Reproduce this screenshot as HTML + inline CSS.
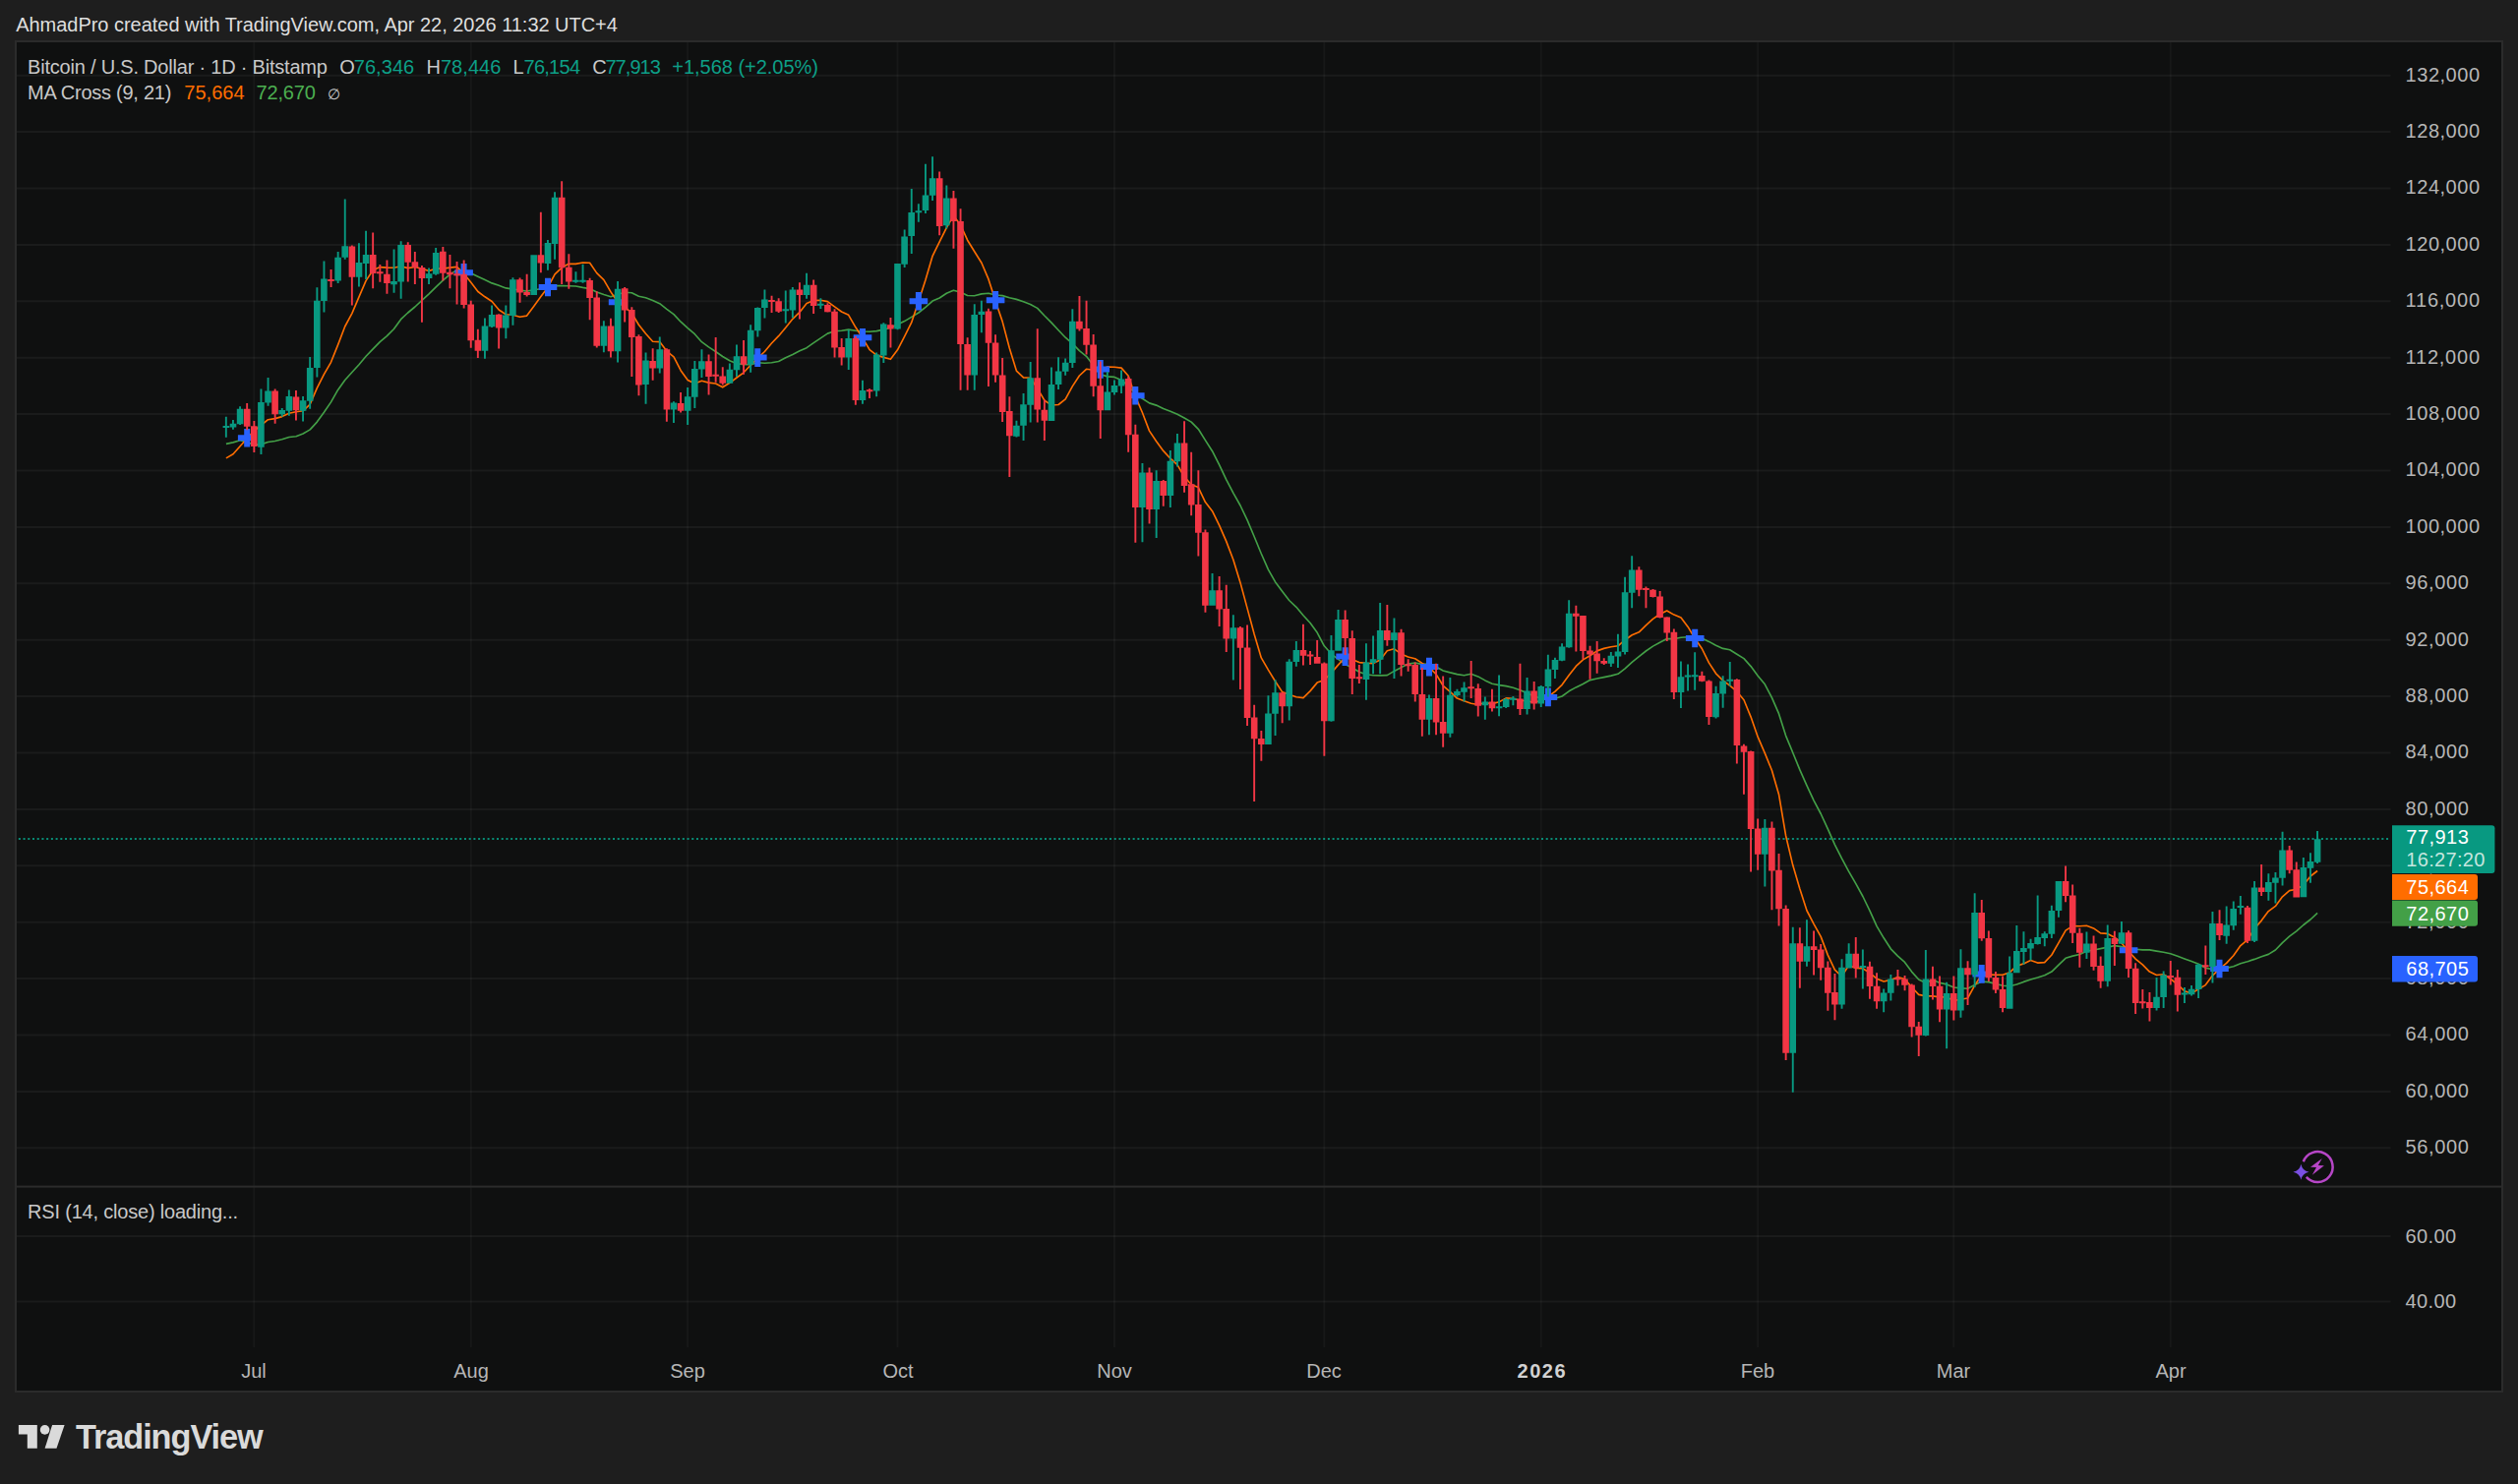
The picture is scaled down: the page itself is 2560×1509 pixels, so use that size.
<!DOCTYPE html>
<html lang="en"><head><meta charset="utf-8"><title>BTCUSD chart snapshot</title>
<style>
html,body{margin:0;padding:0;background:#1e1e1e}
body{width:2560px;height:1509px;position:relative;overflow:hidden;font-family:"Liberation Sans",sans-serif}
.frame{position:absolute;left:15px;top:41px;width:2526px;height:1371px;border:2px solid #2b2b2b;background:#0f1010}
svg{position:absolute;left:0;top:0;font-family:"Liberation Sans",sans-serif}
</style></head><body>
<div class="frame"></div>
<svg width="2560" height="1509" viewBox="0 0 2560 1509">
<text x="16.2" y="31.8" font-size="20" fill="#dedede" textLength="611.7" lengthAdjust="spacing">AhmadPro created with TradingView.com, Apr 22, 2026 11:32 UTC+4</text>
<path d="M17 1167.3H2430.5M17 1109.9H2430.5M17 1052.5H2430.5M17 995.1H2430.5M17 937.7H2430.5M17 880.3H2430.5M17 822.9H2430.5M17 765.5H2430.5M17 708.1H2430.5M17 650.7H2430.5M17 593.3H2430.5M17 535.9H2430.5M17 478.5H2430.5M17 421.1H2430.5M17 363.7H2430.5M17 306.3H2430.5M17 248.9H2430.5M17 191.5H2430.5M17 134.1H2430.5M17 76.7H2430.5M17 1257H2430.5M17 1323.4H2430.5" stroke="rgba(255,255,255,0.047)" stroke-width="2" fill="none"/>
<path d="M258.3 43V1370M478.7 43V1370M699.2 43V1370M912.5 43V1370M1133 43V1370M1346.3 43V1370M1566.7 43V1370M1787.2 43V1370M1986.3 43V1370M2206.7 43V1370" stroke="rgba(255,255,255,0.036)" stroke-width="2" fill="none"/>
<rect x="17" y="1205.6" width="2526" height="2" fill="#2b2b2b"/>
<path d="M229.9 451.4L237 449.9L244.1 447.8L251.2 449.6L258.3 452.4L265.4 451.9L272.5 449.5L279.6 448.5L286.7 446.7L293.9 444.5L301 443.7L308.1 441L315.2 436.9L322.3 429.1L329.4 419.3L336.5 408.9L343.6 396.4L350.7 386.5L357.9 378.5L365 370.7L372.1 362.3L379.2 354.9L386.3 347.6L393.4 341.6L400.5 334.5L407.6 324.7L414.7 318L421.9 312L429 305.4L436.1 298.8L443.2 291.9L450.3 285.2L457.4 279.1L464.5 274.6L471.6 274.8L478.7 277.8L485.9 281.2L493 284.5L500.1 287.9L507.2 290.3L514.3 292.9L521.4 294.1L528.5 295L535.6 296.1L542.7 294.7L549.9 293.8L557 293.7L564.1 290.6L571.2 290.6L578.3 290.7L585.4 291L592.5 292.4L599.6 293.6L606.7 297L613.9 299.5L621 301.7L628.1 299.2L635.2 297.3L642.3 297.8L649.4 301.2L656.5 302.8L663.6 305.4L670.7 308.7L677.9 314.4L685 319.6L692.1 327.2L699.2 333.6L706.3 339.7L713.4 347.7L720.5 352.9L727.6 357.5L734.7 362.5L741.9 366.8L749 369.7L756.1 370.6L763.2 370.8L770.3 368.7L777.4 369.2L784.5 368.8L791.6 367.5L798.7 363.8L805.9 360.4L813 356.8L820.1 353.7L827.2 348.7L834.3 343.9L841.4 339.1L848.5 336.8L855.6 336.2L862.7 335.1L869.9 336.3L877 337L884.1 337.3L891.2 336.6L898.3 335.1L905.4 333.3L912.5 330.1L919.6 326.6L926.7 322.4L933.9 318L941 312.4L948.1 306.1L955.2 303L962.3 298.3L969.4 295.2L976.5 297.1L983.6 300.5L990.7 300.7L997.9 298.9L1005 298.2L1012.1 300L1019.2 300.6L1026.3 302.8L1033.4 304.4L1040.5 306.8L1047.6 309.5L1054.7 313.4L1061.9 321L1069 328.1L1076.1 335.8L1083.2 343.2L1090.3 349.3L1097.4 356.6L1104.5 362.3L1111.6 371.4L1118.7 380.6L1125.9 382.9L1133 383.4L1140.1 386.5L1147.2 392.5L1154.3 400.5L1161.4 405.2L1168.5 409.9L1175.6 412.1L1182.7 415.5L1189.9 418.2L1197 421.3L1204.1 425L1211.2 429.1L1218.3 436.3L1225.4 447.6L1232.5 458.7L1239.6 472.6L1246.7 487.6L1253.9 501.3L1261 514L1268.1 528.9L1275.2 545.7L1282.3 563L1289.4 579.2L1296.5 591.7L1303.6 601.3L1310.7 610.5L1317.9 617.3L1325 625.8L1332.1 633.5L1339.2 643.3L1346.3 656.8L1353.4 664.8L1360.5 670.3L1367.6 675.4L1374.7 679L1381.9 683.2L1389 685.8L1396.1 686.8L1403.2 686.9L1410.3 686.6L1417.4 682.4L1424.5 678.8L1431.6 675L1438.7 674.1L1445.9 675.4L1453 675L1460.1 678L1467.2 682L1474.3 683.9L1481.4 685.6L1488.5 686.8L1495.6 685.2L1502.7 687.9L1509.9 691.9L1517 695.2L1524.1 696.6L1531.2 697.6L1538.3 699.3L1545.4 701.7L1552.5 704.7L1559.6 707.7L1566.7 710.3L1573.9 710.6L1581 710.3L1588.1 708L1595.2 702.8L1602.3 698.9L1609.4 695.4L1616.5 691.6L1623.6 690L1630.7 688.6L1637.9 687.1L1645 685.3L1652.1 679.8L1659.2 673.4L1666.3 667.7L1673.4 662L1680.5 657.1L1687.6 653.2L1694.7 649.5L1701.9 649.6L1709 648.3L1716.1 647.7L1723.2 648L1730.3 649L1737.4 652.4L1744.5 656.3L1751.6 659.4L1758.7 660.8L1765.9 665.2L1773 669.6L1780.1 677.6L1787.2 687.2L1794.3 695.8L1801.4 709.3L1808.5 725.7L1815.6 748.1L1822.7 765.2L1829.9 782.9L1837 798.8L1844.1 814.1L1851.2 827.5L1858.3 842.8L1865.4 858.8L1872.5 872.9L1879.6 886.1L1886.7 898.3L1893.9 911.5L1901 926.2L1908.1 941.8L1915.2 953.8L1922.3 964.8L1929.4 972.1L1936.5 978.4L1943.6 988.1L1950.7 996L1957.9 999.4L1965 996.2L1972.1 999.4L1979.2 1000.9L1986.3 1004L1993.4 1004.9L2000.5 1005.2L2007.6 1001.4L2014.7 998.1L2021.9 998.6L2029 1000.4L2036.1 1002.3L2043.2 1002.7L2050.3 1001L2057.4 998.4L2064.5 996L2071.6 994L2078.7 991.7L2085.9 988.1L2093 981.1L2100.1 974.3L2107.2 972.1L2114.3 970.5L2121.4 967.3L2128.5 966L2135.6 964.6L2142.7 963.1L2149.9 961.6L2157 962.6L2164.1 964.1L2171.2 965.3L2178.3 965.9L2185.4 965.9L2192.5 967.1L2199.6 968.3L2206.7 969.7L2213.9 972.2L2221 974.9L2228.1 977.6L2235.2 980.2L2242.3 984.3L2249.4 985.6L2256.5 985.8L2263.6 984.4L2270.7 982.7L2277.9 979.8L2285 977.8L2292.1 975.4L2299.2 972.8L2306.3 970.4L2313.4 966L2320.5 958.6L2327.6 952.2L2334.7 946.8L2341.9 940.5L2349 935L2356.1 928.3" stroke="#43a047" stroke-width="1.65" fill="none" stroke-linejoin="round"/>
<path d="M229.9 465.9L237 461.8L244.1 453.7L251.2 445.7L258.3 438L265.4 432.5L272.5 426.7L279.6 425.6L286.7 423.6L293.9 420.2L301 418.7L308.1 417.8L315.2 411.1L322.3 394.7L329.4 380.7L336.5 368.3L343.6 350.6L350.7 332L357.9 318.6L365 301.9L372.1 285.4L379.2 274.7L386.3 271.6L393.4 272.1L400.5 272.2L407.6 270.8L414.7 272.6L421.9 271.5L429 273.3L436.1 275.5L443.2 273.1L450.3 273.1L457.4 272.1L464.5 271.4L471.6 278.2L478.7 287.1L485.9 296.5L493 301.8L500.1 306.5L507.2 315L514.3 319.8L521.4 320.3L528.5 322.3L535.6 321.1L542.7 311.5L549.9 301.6L557 292.2L564.1 278.9L571.2 272.1L578.3 268.3L585.4 268.4L592.5 267L599.6 267.3L606.7 277.6L613.9 284.7L621 296.9L628.1 307.3L635.2 312.1L642.3 318.4L649.4 330.2L656.5 339.3L663.6 347.3L670.7 347.6L677.9 357.1L685 362.9L692.1 376.7L699.2 386.4L706.3 390L713.4 387.3L720.5 389.1L727.6 390L734.7 393.8L741.9 389.3L749 384L756.1 378.8L763.2 371.3L770.3 364.4L777.4 357.5L784.5 349L791.6 341.7L798.7 333.3L805.9 324.3L813 317.4L820.1 308.4L827.2 305.6L834.3 305.2L841.4 306.6L848.5 311.8L855.6 317L862.7 320.3L869.9 332.8L877 343.6L884.1 355.6L891.2 361.1L898.3 363.4L905.4 365.3L912.5 355.8L919.6 342.1L926.7 327.9L933.9 306.4L941 284.4L948.1 260.3L955.2 245.8L962.3 231.6L969.4 219.4L976.5 228.5L983.6 244.2L990.7 255.8L997.9 267.2L1005 283.9L1012.1 306.1L1019.2 327.1L1026.3 354L1033.4 377.1L1040.5 383.9L1047.6 384.2L1054.7 394.9L1061.9 407.2L1069 411.9L1076.1 411.5L1083.2 405.9L1090.3 392.9L1097.4 382L1104.5 375.3L1111.6 376.2L1118.7 376.3L1125.9 373.1L1133 373.2L1140.1 374.1L1147.2 382.2L1154.3 403.2L1161.4 419.5L1168.5 438.1L1175.6 448.8L1182.7 458.4L1189.9 466.2L1197 472.7L1204.1 484.8L1211.2 492.7L1218.3 495.6L1225.4 510.6L1232.5 519.7L1239.6 534.2L1246.7 550.4L1253.9 569.2L1261 592.4L1268.1 618.6L1275.2 645L1282.3 668.9L1289.4 681.1L1296.5 692.7L1303.6 703.6L1310.7 706.2L1317.9 708.7L1325 709.6L1332.1 702.6L1339.2 694.1L1346.3 691.5L1353.4 684.4L1360.5 676.1L1367.6 668.5L1374.7 670.4L1381.9 673.6L1389 674.3L1396.1 674.6L1403.2 670.9L1410.3 661.8L1417.4 659.8L1424.5 664.9L1431.6 668L1438.7 669.8L1445.9 674.4L1453 678.5L1460.1 685.6L1467.2 697.3L1474.3 703.4L1481.4 710.1L1488.5 712.7L1495.6 715.2L1502.7 716.5L1509.9 714.5L1517 715.6L1524.1 713.8L1531.2 709.9L1538.3 710.3L1545.4 712.3L1552.5 712.7L1559.6 714.4L1566.7 712.2L1573.9 708.5L1581 703.1L1588.1 696.3L1595.2 686.6L1602.3 677.4L1609.4 670.9L1616.5 666.7L1623.6 661.9L1630.7 659.4L1637.9 657.8L1645 656.8L1652.1 650.7L1659.2 645.8L1666.3 642.8L1673.4 635.9L1680.5 629.4L1687.6 624.5L1694.7 621L1701.9 625.1L1709 628L1716.1 637.4L1723.2 649.2L1730.3 659.5L1737.4 673.9L1744.5 684.8L1751.6 691.9L1758.7 697.2L1765.9 703.2L1773 711.7L1780.1 729.1L1787.2 749.4L1794.3 765.9L1801.4 783.3L1808.5 807.7L1815.6 849.7L1822.7 879.6L1829.9 904L1837 926L1844.1 939.6L1851.2 952.4L1858.3 971.1L1865.4 986.2L1872.5 992.8L1879.6 981.6L1886.7 984.4L1893.9 984.8L1901 989.4L1908.1 995.2L1915.2 998L1922.3 996.4L1929.4 993.5L1936.5 995.5L1943.6 1003.8L1950.7 1011.4L1957.9 1012.9L1965 1012.9L1972.1 1013.9L1979.2 1013.9L1986.3 1017.5L1993.4 1016.2L2000.5 1015L2007.6 1002.1L2014.7 991.2L2021.9 991L2029 991.4L2036.1 991.2L2043.2 988.9L2050.3 982.2L2057.4 979.9L2064.5 976.4L2071.6 979.1L2078.7 978.6L2085.9 971L2093 958.7L2100.1 946.1L2107.2 941.6L2114.3 941.8L2121.4 941.3L2128.5 943.9L2135.6 948.9L2142.7 949.4L2149.9 953.2L2157 959L2164.1 967.2L2171.2 975.1L2178.3 980.8L2185.4 988.1L2192.5 991.5L2199.6 990.8L2206.7 995.3L2213.9 1001L2221 1007.8L2228.1 1010.1L2235.2 1005.7L2242.3 1001.6L2249.4 992.1L2256.5 985.1L2263.6 979.4L2270.7 971.7L2277.9 961.6L2285 955.7L2292.1 944.3L2299.2 936.1L2306.3 926.6L2313.4 921.4L2320.5 911.8L2327.6 905.6L2334.7 904.3L2341.9 900L2349 891L2356.1 885.5" stroke="#ff6d00" stroke-width="1.65" fill="none" stroke-linejoin="round"/>
<path d="M248.2 435.9h6v6.3h6.3v6h-6.3v6.3h-6v-6.3h-6.3v-6h6.3zM468.6 267.9h6v6.3h6.3v6h-6.3v6.3h-6v-6.3h-6.3v-6h6.3zM554 282.7h6v6.3h6.3v6h-6.3v6.3h-6v-6.3h-6.3v-6h6.3zM625.1 298h6v6.3h6.3v6h-6.3v6.3h-6v-6.3h-6.3v-6h6.3zM767.3 354.3h6v6.3h6.3v6h-6.3v6.3h-6v-6.3h-6.3v-6h6.3zM874 334h6v6.3h6.3v6h-6.3v6.3h-6v-6.3h-6.3v-6h6.3zM930.9 297h6v6.3h6.3v6h-6.3v6.3h-6v-6.3h-6.3v-6h6.3zM1009.1 296h6v6.3h6.3v6h-6.3v6.3h-6v-6.3h-6.3v-6h6.3zM1115.7 366.1h6v6.3h6.3v6h-6.3v6.3h-6v-6.3h-6.3v-6h6.3zM1151.3 392.9h6v6.3h6.3v6h-6.3v6.3h-6v-6.3h-6.3v-6h6.3zM1364.6 658.3h6v6.3h6.3v6h-6.3v6.3h-6v-6.3h-6.3v-6h6.3zM1450 668.8h6v6.3h6.3v6h-6.3v6.3h-6v-6.3h-6.3v-6h6.3zM1570.9 699.6h6v6.3h6.3v6h-6.3v6.3h-6v-6.3h-6.3v-6h6.3zM1720.2 639.7h6v6.3h6.3v6h-6.3v6.3h-6v-6.3h-6.3v-6h6.3zM2011.7 981.1h6v6.3h6.3v6h-6.3v6.3h-6v-6.3h-6.3v-6h6.3zM2161.1 956.9h6v6.3h6.3v6h-6.3v6.3h-6v-6.3h-6.3v-6h6.3zM2253.5 975.7h6v6.3h6.3v6h-6.3v6.3h-6v-6.3h-6.3v-6h6.3z" fill="#2962ff"/>
<path d="M18.85 853H2428.2" stroke="#089981" stroke-width="2.1" stroke-dasharray="2 2.72" fill="none" opacity="0.9"/>
<path d="M250.2 409.9h1.9V437.2h-1.9zM247.9 415.8h6.6V433.8h-6.6zM257.4 427.9h1.9V459.9h-1.9zM255 433.3h6.6V454h-6.6zM278.7 395.4h1.9V430.8h-1.9zM276.3 397.6h6.6V421.2h-6.6zM300 397.1h1.9V427.4h-1.9zM297.7 403.5h6.6V417.3h-6.6zM335.6 274.1h1.9V292h-1.9zM333.2 283.9h6.6V285.9h-6.6zM356.9 249.4h1.9V310.5h-1.9zM354.6 250.5h6.6V281.7h-6.6zM378.2 236.4h1.9V293.2h-1.9zM375.9 259h6.6V278h-6.6zM385.4 269.1h1.9V286.8h-1.9zM383 276.3h6.6V278.3h-6.6zM392.5 264.5h1.9V298.7h-1.9zM390.1 278.8h6.6V288.1h-6.6zM413.8 246.3h1.9V286.4h-1.9zM411.4 248.9h6.6V266.7h-6.6zM420.9 256.1h1.9V288.9h-1.9zM418.6 266.2h6.6V272.1h-6.6zM428 270.1h1.9V327.7h-1.9zM425.7 272.1h6.6V283.1h-6.6zM449.4 251.1h1.9V285.6h-1.9zM447 255.8h6.6V277.7h-6.6zM456.5 259h1.9V293.2h-1.9zM454.1 276.8h6.6V279.2h-6.6zM463.6 265.9h1.9V309.5h-1.9zM461.2 278.3h6.6V280.3h-6.6zM470.7 264.5h1.9V313.4h-1.9zM468.3 278.8h6.6V310h-6.6zM477.8 305.8h1.9V353.8h-1.9zM475.4 309.5h6.6V346.2h-6.6zM484.9 334.8h1.9V363.9h-1.9zM482.6 345.7h6.6V356.7h-6.6zM506.2 319.3h1.9V354.6h-1.9zM503.9 319.8h6.6V333.6h-6.6zM527.6 282.5h1.9V307.8h-1.9zM525.2 284.2h6.6V297.4h-6.6zM534.7 278.8h1.9V301.6h-1.9zM532.3 297h6.6V299.9h-6.6zM548.9 215.7h1.9V277.3h-1.9zM546.6 259.2h6.6V267.6h-6.6zM570.2 184.2h1.9V289.1h-1.9zM567.9 200.7h6.6V272.3h-6.6zM577.4 258.3h1.9V293.7h-1.9zM575 271.8h6.6V286.4h-6.6zM598.7 282.7h1.9V325.2h-1.9zM596.3 284.9h6.6V302.9h-6.6zM605.8 296.2h1.9V353.5h-1.9zM603.4 302.6h6.6V351.8h-6.6zM620 323.7h1.9V363.6h-1.9zM617.7 331.6h6.6V357.2h-6.6zM634.2 292h1.9V327.4h-1.9zM631.9 293.2h6.6V315.6h-6.6zM641.4 312.2h1.9V382.9h-1.9zM639 315.1h6.6V343h-6.6zM648.5 340.3h1.9V402.3h-1.9zM646.1 342h6.6V391.4h-6.6zM662.7 354.3h1.9V386.8h-1.9zM660.3 366.9h6.6V374.5h-6.6zM676.9 354.3h1.9V428.8h-1.9zM674.6 355.2h6.6V416.6h-6.6zM691.1 398.9h1.9V419.5h-1.9zM688.8 409.9h6.6V417.8h-6.6zM719.6 360.5h1.9V401.5h-1.9zM717.2 367.3h6.6V382.9h-6.6zM726.7 343h1.9V388.8h-1.9zM724.3 380.8h6.6V382.8h-6.6zM733.8 373.2h1.9V391.4h-1.9zM731.4 382.6h6.6V389.7h-6.6zM755.1 345.9h1.9V380.8h-1.9zM752.8 362.2h6.6V370.7h-6.6zM783.6 300.8h1.9V318.1h-1.9zM781.2 305h6.6V307h-6.6zM790.7 303.3h1.9V318.1h-1.9zM788.3 306.3h6.6V316.8h-6.6zM812 287.3h1.9V324.5h-1.9zM809.7 294.5h6.6V299.9h-6.6zM826.2 284.4h1.9V318.9h-1.9zM823.9 289.8h6.6V311h-6.6zM840.5 308.3h1.9V317.6h-1.9zM838.1 310h6.6V317.2h-6.6zM847.6 314.2h1.9V363.6h-1.9zM845.2 316.7h6.6V353.5h-6.6zM854.7 344h1.9V371.5h-1.9zM852.3 352.9h6.6V363.6h-6.6zM868.9 342h1.9V411.7h-1.9zM866.6 344h6.6V407.1h-6.6zM883.1 395.3h1.9V404.9h-1.9zM880.8 396.2h6.6V398.2h-6.6zM904.5 323.1h1.9V353.5h-1.9zM902.1 330.2h6.6V334.4h-6.6zM954.2 174.4h1.9V239.3h-1.9zM951.9 181.2h6.6V230h-6.6zM968.5 194.1h1.9V252.7h-1.9zM966.1 201.4h6.6V224.9h-6.6zM975.6 212.3h1.9V396.7h-1.9zM973.2 224.9h6.6V350.1h-6.6zM982.7 343.3h1.9V396.7h-1.9zM980.3 350.1h6.6V381.6h-6.6zM1004 313.7h1.9V392.9h-1.9zM1001.7 316.4h6.6V348.7h-6.6zM1011.1 340.3h1.9V388.8h-1.9zM1008.8 348.4h6.6V381.6h-6.6zM1018.2 364h1.9V429h-1.9zM1015.9 381.4h6.6V418.9h-6.6zM1025.4 403.3h1.9V484.9h-1.9zM1023 418.1h6.6V443.3h-6.6zM1053.8 334.2h1.9V429.4h-1.9zM1051.4 384.2h6.6V416.4h-6.6zM1060.9 406.6h1.9V447.9h-1.9zM1058.6 416.7h6.6V427.7h-6.6zM1096.5 301.1h1.9V336.6h-1.9zM1094.1 326.8h6.6V334.4h-6.6zM1103.6 305.8h1.9V360.5h-1.9zM1101.2 333.9h6.6V350.8h-6.6zM1110.7 340.1h1.9V403.3h-1.9zM1108.3 350.5h6.6V392.7h-6.6zM1117.8 367.4h1.9V445.9h-1.9zM1115.4 392.3h6.6V417.2h-6.6zM1146.2 382.8h1.9V459.8h-1.9zM1143.9 385h6.6V442.3h-6.6zM1153.4 431.7h1.9V551.8h-1.9zM1151 441.8h6.6V515.9h-6.6zM1167.6 475.5h1.9V532.4h-1.9zM1165.2 480.5h6.6V518.1h-6.6zM1181.8 488.1h1.9V514.7h-1.9zM1179.4 488.9h6.6V504.1h-6.6zM1203.1 428.3h1.9V500.7h-1.9zM1200.8 450.5h6.6V494h-6.6zM1210.2 459.8h1.9V524.3h-1.9zM1207.9 492.3h6.6V513.4h-6.6zM1217.4 478.3h1.9V565.6h-1.9zM1215 512.9h6.6V541.7h-6.6zM1224.5 538.6h1.9V622.7h-1.9zM1222.1 541.2h6.6V615.8h-6.6zM1238.7 585.9h1.9V637h-1.9zM1236.3 600.3h6.6V619.6h-6.6zM1245.8 594.7h1.9V662.9h-1.9zM1243.4 619.1h6.6V649.6h-6.6zM1260 637h1.9V701h-1.9zM1257.7 638.2h6.6V658.7h-6.6zM1267.1 635.6h1.9V737.9h-1.9zM1264.8 658.4h6.6V729.9h-6.6zM1274.2 716.8h1.9V815h-1.9zM1271.9 729.4h6.6V751.3h-6.6zM1281.4 743.1h1.9V773.7h-1.9zM1279 751h6.6V756.9h-6.6zM1302.7 703.8h1.9V735.3h-1.9zM1300.3 704.2h6.6V718.2h-6.6zM1324 634.8h1.9V676.6h-1.9zM1321.7 660.9h6.6V666.8h-6.6zM1331.1 662.1h1.9V676.1h-1.9zM1328.8 665.6h6.6V667.6h-6.6zM1338.2 651.1h1.9V674.7h-1.9zM1335.9 668h6.6V674.7h-6.6zM1345.4 673.5h1.9V768.7h-1.9zM1343 674.4h6.6V733.3h-6.6zM1366.7 620.5h1.9V665.9h-1.9zM1364.3 630.1h6.6V649.1h-6.6zM1373.8 641.2h1.9V706h-1.9zM1371.4 649.1h6.6V689.9h-6.6zM1380.9 676.1h1.9V694.9h-1.9zM1378.6 688.2h6.6V690.2h-6.6zM1409.4 615.1h1.9V656.7h-1.9zM1407 641h6.6V651.1h-6.6zM1423.6 639.8h1.9V687.5h-1.9zM1421.2 643.2h6.6V676.1h-6.6zM1430.7 670.2h1.9V682.8h-1.9zM1428.3 675.2h6.6V677.2h-6.6zM1437.8 673.5h1.9V713.4h-1.9zM1435.4 676.1h6.6V706h-6.6zM1444.9 678.9h1.9V748.8h-1.9zM1442.6 705.9h6.6V731.7h-6.6zM1459.1 674.7h1.9V747.2h-1.9zM1456.8 710.1h6.6V734.5h-6.6zM1466.2 687.4h1.9V759.8h-1.9zM1463.9 734h6.6V745.8h-6.6zM1494.7 671.9h1.9V710.1h-1.9zM1492.3 698.3h6.6V700.3h-6.6zM1501.8 695.3h1.9V728.6h-1.9zM1499.4 700h6.6V717.7h-6.6zM1516 700.8h1.9V723.6h-1.9zM1513.7 713.5h6.6V720.2h-6.6zM1544.5 674.7h1.9V726.9h-1.9zM1542.1 710.4h6.6V721.1h-6.6zM1558.7 692.9h1.9V721.4h-1.9zM1556.3 702.5h6.6V715.5h-6.6zM1601.4 615.8h1.9V662.4h-1.9zM1599 623.7h6.6V626.7h-6.6zM1608.5 625.9h1.9V670.5h-1.9zM1606.1 625.9h6.6V662.1h-6.6zM1615.6 656.7h1.9V690.7h-1.9zM1613.2 661.6h6.6V665.5h-6.6zM1622.7 652h1.9V684.8h-1.9zM1620.3 664.6h6.6V672.2h-6.6zM1629.8 669.3h1.9V676.1h-1.9zM1627.4 671.9h6.6V674.7h-6.6zM1665.4 576.2h1.9V606.2h-1.9zM1663 579.6h6.6V599.8h-6.6zM1672.5 596.4h1.9V618.3h-1.9zM1670.1 598.1h6.6V600.1h-6.6zM1679.6 598.9h1.9V607.4h-1.9zM1677.2 599.8h6.6V606.9h-6.6zM1686.7 601h1.9V628.4h-1.9zM1684.3 606.5h6.6V628.1h-6.6zM1693.8 627.2h1.9V652h-1.9zM1691.4 627.6h6.6V643.6h-6.6zM1700.9 639.4h1.9V710.9h-1.9zM1698.6 642.7h6.6V703.9h-6.6zM1729.4 682.8h1.9V693.3h-1.9zM1727 686.9h6.6V692.8h-6.6zM1736.5 691.6h1.9V737.1h-1.9zM1734.1 692.4h6.6V729h-6.6zM1764.9 690.2h1.9V776.4h-1.9zM1762.6 691.1h6.6V758.1h-6.6zM1772 756.7h1.9V807.8h-1.9zM1769.7 758.4h6.6V764.7h-6.6zM1779.1 763.5h1.9V886.4h-1.9zM1776.8 764h6.6V843.1h-6.6zM1786.2 832.5h1.9V884.7h-1.9zM1783.9 842.6h6.6V868.7h-6.6zM1800.5 835.6h1.9V925.2h-1.9zM1798.1 841.8h6.6V885.6h-6.6zM1807.6 867.9h1.9V941.6h-1.9zM1805.2 884.7h6.6V924.2h-6.6zM1814.7 920.5h1.9V1078h-1.9zM1812.3 923.9h6.6V1070.8h-6.6zM1828.9 943.3h1.9V1004.7h-1.9zM1826.6 959.3h6.6V977.8h-6.6zM1843.1 946.6h1.9V991.6h-1.9zM1840.8 962.3h6.6V966h-6.6zM1850.2 960.1h1.9V996.7h-1.9zM1847.9 965.5h6.6V984.2h-6.6zM1857.4 977.5h1.9V1027.8h-1.9zM1855 983.7h6.6V1009.8h-6.6zM1864.5 989.9h1.9V1037.2h-1.9zM1862.1 1008.9h6.6V1021.6h-6.6zM1885.8 953h1.9V994.6h-1.9zM1883.4 969.7h6.6V984.2h-6.6zM1900 977.8h1.9V1015.7h-1.9zM1897.7 982.8h6.6V1003.1h-6.6zM1907.1 989.2h1.9V1025.8h-1.9zM1904.8 1002.7h6.6V1018.2h-6.6zM1928.5 985.9h1.9V1002.2h-1.9zM1926.1 994.3h6.6V996.3h-6.6zM1935.6 992.1h1.9V1007.3h-1.9zM1933.2 995.5h6.6V1001.7h-6.6zM1942.7 1000.5h1.9V1054.4h-1.9zM1940.3 1001.4h6.6V1044.3h-6.6zM1949.8 1038.9h1.9V1074.1h-1.9zM1947.4 1043.8h6.6V1052.7h-6.6zM1964 982.8h1.9V1016.5h-1.9zM1961.7 995.5h6.6V1003.1h-6.6zM1971.1 992.4h1.9V1039.3h-1.9zM1968.8 1002.7h6.6V1026.6h-6.6zM1985.4 992.4h1.9V1037.6h-1.9zM1983 1010.1h6.6V1027.5h-6.6zM1999.6 977.3h1.9V1022.1h-1.9zM1997.2 984.2h6.6V991.3h-6.6zM2013.8 915.1h1.9V956.7h-1.9zM2011.4 928.1h6.6V954.2h-6.6zM2020.9 946.6h1.9V998h-1.9zM2018.6 953.9h6.6V994.3h-6.6zM2028 987.9h1.9V1010.1h-1.9zM2025.7 994.1h6.6V1006.4h-6.6zM2035.1 992.4h1.9V1029.2h-1.9zM2032.8 1006.1h6.6V1024.9h-6.6zM2099.1 880.6h1.9V917.3h-1.9zM2096.8 896.1h6.6V910.9h-6.6zM2106.2 899.5h1.9V958.9h-1.9zM2103.9 910.4h6.6V948.8h-6.6zM2113.4 943.8h1.9V983.7h-1.9zM2111 948.8h6.6V968.7h-6.6zM2127.6 951.4h1.9V986.7h-1.9zM2125.2 959.5h6.6V982.9h-6.6zM2134.7 972.4h1.9V1004.8h-1.9zM2132.3 982h6.6V997.7h-6.6zM2148.9 946.7h1.9V982h-1.9zM2146.6 953.9h6.6V960.1h-6.6zM2163.1 946.3h1.9V994h-1.9zM2160.8 948.3h6.6V985.1h-6.6zM2170.2 979.2h1.9V1030.9h-1.9zM2167.9 984.7h6.6V1019.9h-6.6zM2177.4 1006.1h1.9V1025.5h-1.9zM2175 1018.2h6.6V1020.2h-6.6zM2184.5 1009h1.9V1038.6h-1.9zM2182.1 1019.1h6.6V1025.1h-6.6zM2205.8 977h1.9V1001.6h-1.9zM2203.4 992.1h6.6V994.1h-6.6zM2212.9 985.9h1.9V1028.5h-1.9zM2210.6 993.8h6.6V1011.7h-6.6zM2241.4 961.5h1.9V990.9h-1.9zM2239 981.2h6.6V983.2h-6.6zM2255.6 925.3h1.9V956.1h-1.9zM2253.2 939.1h6.6V951h-6.6zM2284 921.1h1.9V958.9h-1.9zM2281.7 922.7h6.6V956.8h-6.6zM2298.2 878.9h1.9V910.9h-1.9zM2295.9 902.5h6.6V907.1h-6.6zM2326.7 859.9h1.9V888.2h-1.9zM2324.3 864.6h6.6V884.8h-6.6zM2333.8 876.4h1.9V912.6h-1.9zM2331.4 884.3h6.6V912.6h-6.6z" fill="#f23645"/>
<path d="M228.9 423.7h1.9V444.7h-1.9zM226.6 432.9h6.6V434.9h-6.6zM236 427.1h1.9V436.8h-1.9zM233.7 430.8h6.6V434.6h-6.6zM243.1 413.2h1.9V432.1h-1.9zM240.8 415.8h6.6V431.3h-6.6zM264.5 395.4h1.9V462.1h-1.9zM262.1 409h6.6V454.8h-6.6zM271.6 384.1h1.9V412.7h-1.9zM269.2 397.6h6.6V409.4h-6.6zM285.8 414.9h1.9V423.7h-1.9zM283.4 416.9h6.6V421.2h-6.6zM292.9 396.4h1.9V422.8h-1.9zM290.6 403h6.6V417.8h-6.6zM307.1 403.1h1.9V428.4h-1.9zM304.8 407.2h6.6V417.8h-6.6zM314.2 363.1h1.9V415.8h-1.9zM311.9 374h6.6V407.7h-6.6zM321.4 292.3h1.9V383.6h-1.9zM319 305.8h6.6V374h-6.6zM328.5 265.4h1.9V317.6h-1.9zM326.1 283.6h6.6V306.1h-6.6zM342.7 256.1h1.9V288.1h-1.9zM340.3 261.7h6.6V285.6h-6.6zM349.8 202.5h1.9V263.7h-1.9zM347.4 250.2h6.6V261.7h-6.6zM364 247.3h1.9V291.5h-1.9zM361.7 267.1h6.6V281.7h-6.6zM371.1 234.7h1.9V283.9h-1.9zM368.8 259h6.6V267.9h-6.6zM399.6 253.6h1.9V297.7h-1.9zM397.2 286.1h6.6V289.3h-6.6zM406.7 245.2h1.9V303.8h-1.9zM404.3 248.9h6.6V286.4h-6.6zM435.1 272.4h1.9V288.9h-1.9zM432.8 278.3h6.6V283.1h-6.6zM442.2 251.9h1.9V279.7h-1.9zM439.9 256.9h6.6V278.8h-6.6zM492 323.5h1.9V364.7h-1.9zM489.7 331.6h6.6V356.7h-6.6zM499.1 310.5h1.9V333.1h-1.9zM496.8 320.1h6.6V332.2h-6.6zM513.4 310.5h1.9V344.2h-1.9zM511 320.6h6.6V333.6h-6.6zM520.5 282.2h1.9V330.7h-1.9zM518.1 284.2h6.6V320.9h-6.6zM541.8 259.2h1.9V299.9h-1.9zM539.4 259.2h6.6V299.9h-6.6zM556 244h1.9V274.7h-1.9zM553.7 247h6.6V267.9h-6.6zM563.1 195.2h1.9V263.7h-1.9zM560.8 200.7h6.6V247.9h-6.6zM584.5 276.3h1.9V287.8h-1.9zM582.1 284.8h6.6V286.8h-6.6zM591.6 268.8h1.9V287.8h-1.9zM589.2 284.8h6.6V286.8h-6.6zM612.9 326.2h1.9V358.2h-1.9zM610.6 331.6h6.6V351.8h-6.6zM627.1 286.1h1.9V368.6h-1.9zM624.8 293.7h6.6V357.2h-6.6zM655.6 358.5h1.9V410.7h-1.9zM653.2 366.6h6.6V390.9h-6.6zM669.8 342.5h1.9V379.6h-1.9zM667.4 355.2h6.6V374.5h-6.6zM684 408.2h1.9V429.9h-1.9zM681.7 409.4h6.6V416.6h-6.6zM698.2 393.9h1.9V432h-1.9zM695.9 403.2h6.6V417.8h-6.6zM705.4 366.9h1.9V414.9h-1.9zM703 375h6.6V403.7h-6.6zM712.5 355.2h1.9V384.1h-1.9zM710.1 367.3h6.6V375.4h-6.6zM740.9 369.5h1.9V389.7h-1.9zM738.6 375.7h6.6V389.7h-6.6zM748 350.4h1.9V382.9h-1.9zM745.7 362.2h6.6V376.2h-6.6zM762.2 330.2h1.9V378.7h-1.9zM759.9 335.8h6.6V370.7h-6.6zM769.4 312.5h1.9V342.5h-1.9zM767 313.1h6.6V336.3h-6.6zM776.5 294.5h1.9V323.5h-1.9zM774.1 304.6h6.6V313.1h-6.6zM797.8 295.4h1.9V328.5h-1.9zM795.4 314.2h6.6V316.2h-6.6zM804.9 292h1.9V323.2h-1.9zM802.6 294.5h6.6V315.6h-6.6zM819.1 277.7h1.9V303.8h-1.9zM816.8 289.8h6.6V299.9h-6.6zM833.4 303.3h1.9V313.9h-1.9zM831 308.8h6.6V310.8h-6.6zM861.8 335.3h1.9V376h-1.9zM859.4 344h6.6V363.6h-6.6zM876 386.8h1.9V410.8h-1.9zM873.7 397h6.6V407.1h-6.6zM890.2 358.5h1.9V403.3h-1.9zM887.9 360.5h6.6V397.6h-6.6zM897.4 328.2h1.9V368.9h-1.9zM895 329.4h6.6V361.4h-6.6zM911.6 267.9h1.9V335.3h-1.9zM909.2 267.9h6.6V334.4h-6.6zM918.7 233.4h1.9V272.1h-1.9zM916.3 240.4h6.6V268.7h-6.6zM925.8 192.1h1.9V258.1h-1.9zM923.4 216h6.6V240.1h-6.6zM932.9 207.3h1.9V225.8h-1.9zM930.6 214.3h6.6V216.3h-6.6zM940 166.8h1.9V217h-1.9zM937.7 198.5h6.6V214h-6.6zM947.1 159.3h1.9V203.9h-1.9zM944.8 181.2h6.6V198.8h-6.6zM961.4 188.4h1.9V232.5h-1.9zM959 201.4h6.6V229.2h-6.6zM989.8 309.2h1.9V396.7h-1.9zM987.4 320.1h6.6V381.6h-6.6zM996.9 305.8h1.9V338.3h-1.9zM994.6 316.7h6.6V320.1h-6.6zM1032.5 427.7h1.9V444.5h-1.9zM1030.1 432.7h6.6V443.7h-6.6zM1039.6 399.9h1.9V447.9h-1.9zM1037.2 411.3h6.6V432.7h-6.6zM1046.7 367.9h1.9V429.4h-1.9zM1044.3 384.2h6.6V411.7h-6.6zM1068 373.5h1.9V428h-1.9zM1065.7 391h6.6V428h-6.6zM1075.1 363.3h1.9V396h-1.9zM1072.8 377.5h6.6V391h-6.6zM1082.2 364.5h1.9V381.7h-1.9zM1079.9 368.7h6.6V377.7h-6.6zM1089.4 314.2h1.9V374.1h-1.9zM1087 326.8h6.6V368.9h-6.6zM1124.9 378h1.9V417.2h-1.9zM1122.6 398.5h6.6V417.2h-6.6zM1132 386.4h1.9V401.6h-1.9zM1129.7 392h6.6V399.1h-6.6zM1139.1 376.6h1.9V400h-1.9zM1136.8 385.4h6.6V392.4h-6.6zM1160.5 470.9h1.9V551.3h-1.9zM1158.1 480.5h6.6V515.9h-6.6zM1174.7 478.3h1.9V547.1h-1.9zM1172.3 488.9h6.6V518.1h-6.6zM1188.9 458.1h1.9V515.9h-1.9zM1186.6 468.7h6.6V504.1h-6.6zM1196 440.9h1.9V474.6h-1.9zM1193.7 450.5h6.6V469.2h-6.6zM1231.6 582.9h1.9V615.8h-1.9zM1229.2 600.3h6.6V615.8h-6.6zM1252.9 625.2h1.9V691.5h-1.9zM1250.6 638.2h6.6V649.6h-6.6zM1288.5 707.2h1.9V756.9h-1.9zM1286.1 725.4h6.6V756.9h-6.6zM1295.6 691.2h1.9V748.1h-1.9zM1293.2 704.2h6.6V725.7h-6.6zM1309.8 670.2h1.9V732.5h-1.9zM1307.4 672.7h6.6V718.2h-6.6zM1316.9 652.1h1.9V677.7h-1.9zM1314.6 660.9h6.6V673h-6.6zM1352.5 646.1h1.9V733.7h-1.9zM1350.1 661.2h6.6V733.3h-6.6zM1359.6 620h1.9V661.7h-1.9zM1357.2 630.1h6.6V661.7h-6.6zM1388 654.2h1.9V711.8h-1.9zM1385.7 673.5h6.6V690.9h-6.6zM1395.1 646.6h1.9V685.3h-1.9zM1392.8 670.2h6.6V674h-6.6zM1402.2 612.9h1.9V685.3h-1.9zM1399.9 641h6.6V670.7h-6.6zM1416.5 628.4h1.9V689.9h-1.9zM1414.1 643.2h6.6V651.1h-6.6zM1452 706.4h1.9V747.2h-1.9zM1449.7 710.1h6.6V731.7h-6.6zM1473.4 689.1h1.9V749.7h-1.9zM1471 706.7h6.6V745.8h-6.6zM1480.5 700.8h1.9V708.4h-1.9zM1478.1 703h6.6V707.1h-6.6zM1487.6 693.6h1.9V713.5h-1.9zM1485.2 699.2h6.6V703.7h-6.6zM1508.9 708.4h1.9V731.7h-1.9zM1506.6 713.5h6.6V717.2h-6.6zM1523.1 686.5h1.9V728.3h-1.9zM1520.8 718.2h6.6V720.2h-6.6zM1530.2 709.8h1.9V719.9h-1.9zM1527.9 710.9h6.6V719h-6.6zM1537.4 707.9h1.9V717.2h-1.9zM1535 709.8h6.6V711.8h-6.6zM1551.6 689.1h1.9V726.6h-1.9zM1549.2 702.5h6.6V721.1h-6.6zM1565.8 697h1.9V718.9h-1.9zM1563.4 698h6.6V715.5h-6.6zM1572.9 665.8h1.9V708.4h-1.9zM1570.6 680.6h6.6V698.3h-6.6zM1580 668.8h1.9V689.9h-1.9zM1577.7 671h6.6V681.1h-6.6zM1587.1 654.2h1.9V672.2h-1.9zM1584.8 657.6h6.6V671.7h-6.6zM1594.2 610.2h1.9V658.7h-1.9zM1591.9 623.7h6.6V658.2h-6.6zM1636.9 662.9h1.9V678.1h-1.9zM1634.6 666.7h6.6V674.7h-6.6zM1644 644.8h1.9V678.9h-1.9zM1641.7 662.4h6.6V667.5h-6.6zM1651.1 586.7h1.9V665.5h-1.9zM1648.8 602.3h6.6V662.9h-6.6zM1658.2 565.3h1.9V618.3h-1.9zM1655.9 579.6h6.6V602.7h-6.6zM1708 672.5h1.9V719.9h-1.9zM1705.7 688.2h6.6V703.9h-6.6zM1715.1 675.6h1.9V702.5h-1.9zM1712.8 686.5h6.6V688.5h-6.6zM1722.2 663.3h1.9V701.7h-1.9zM1719.9 686.2h6.6V688.2h-6.6zM1743.6 697.8h1.9V730.6h-1.9zM1741.2 705h6.6V729.3h-6.6zM1750.7 687.3h1.9V719.7h-1.9zM1748.3 692.4h6.6V705.4h-6.6zM1757.8 673h1.9V697.8h-1.9zM1755.4 690.7h6.6V692.7h-6.6zM1793.4 833h1.9V901.6h-1.9zM1791 841.8h6.6V868.7h-6.6zM1821.8 942.8h1.9V1110.8h-1.9zM1819.4 959.3h6.6V1070.8h-6.6zM1836 935.3h1.9V982.8h-1.9zM1833.7 962.3h6.6V977.8h-6.6zM1871.6 975.3h1.9V1025.8h-1.9zM1869.2 983.7h6.6V1021.6h-6.6zM1878.7 959.3h1.9V984.5h-1.9zM1876.3 969.7h6.6V984.5h-6.6zM1892.9 965.5h1.9V1005.6h-1.9zM1890.6 982h6.6V984h-6.6zM1914.2 1005.6h1.9V1029.2h-1.9zM1911.9 1009.5h6.6V1018.2h-6.6zM1921.4 990.9h1.9V1017.4h-1.9zM1919 995.5h6.6V1009.8h-6.6zM1956.9 966h1.9V1053.6h-1.9zM1954.6 995.5h6.6V1053.1h-6.6zM1978.2 998.8h1.9V1066.2h-1.9zM1975.9 1010.1h6.6V1026.6h-6.6zM1992.5 965.2h1.9V1034.7h-1.9zM1990.1 984.2h6.6V1027.5h-6.6zM2006.7 908.2h1.9V1003.9h-1.9zM2004.3 928.1h6.6V991.3h-6.6zM2042.2 972.4h1.9V1025.8h-1.9zM2039.9 989.3h6.6V1025.8h-6.6zM2049.4 940.9h1.9V989.3h-1.9zM2047 967h6.6V989.3h-6.6zM2056.5 947.2h1.9V980.8h-1.9zM2054.1 964h6.6V967.9h-6.6zM2063.6 954.7h1.9V976.6h-1.9zM2061.2 958.9h6.6V964.5h-6.6zM2070.7 910.4h1.9V960.6h-1.9zM2068.3 953.1h6.6V960.1h-6.6zM2077.8 947.2h1.9V962.3h-1.9zM2075.4 949.2h6.6V953.9h-6.6zM2084.9 920.7h1.9V953.9h-1.9zM2082.6 926.1h6.6V949.7h-6.6zM2092 896.1h1.9V932.8h-1.9zM2089.7 896.1h6.6V926.1h-6.6zM2120.5 947.5h1.9V974.9h-1.9zM2118.1 959.5h6.6V968.7h-6.6zM2141.8 940.4h1.9V1003.2h-1.9zM2139.4 953.9h6.6V997.7h-6.6zM2156 937.1h1.9V959.8h-1.9zM2153.7 948.3h6.6V959.8h-6.6zM2191.6 994h1.9V1027.5h-1.9zM2189.2 1013.7h6.6V1025.1h-6.6zM2198.7 987.6h1.9V1025.1h-1.9zM2196.3 991.5h6.6V1014h-6.6zM2220 1004.1h1.9V1019.9h-1.9zM2217.7 1009.5h6.6V1011.5h-6.6zM2227.1 1001.9h1.9V1012.5h-1.9zM2224.8 1005.8h6.6V1011.2h-6.6zM2234.2 980h1.9V1015h-1.9zM2231.9 980.8h6.6V1006.1h-6.6zM2248.5 926.9h1.9V999.4h-1.9zM2246.1 939.1h6.6V983h-6.6zM2262.7 921.4h1.9V959.8h-1.9zM2260.3 940.4h6.6V951.7h-6.6zM2269.8 916.5h1.9V945.8h-1.9zM2267.4 923.9h6.6V941.3h-6.6zM2276.9 910.9h1.9V929.8h-1.9zM2274.6 921.1h6.6V923.1h-6.6zM2291.1 896.1h1.9V958.1h-1.9zM2288.8 902.5h6.6V956.8h-6.6zM2305.4 888.2h1.9V915.7h-1.9zM2303 897.1h6.6V907.1h-6.6zM2312.5 886.9h1.9V918.5h-1.9zM2310.1 892.4h6.6V897.8h-6.6zM2319.6 845.8h1.9V900.5h-1.9zM2317.2 864.6h6.6V892.8h-6.6zM2340.9 871.9h1.9V912.3h-1.9zM2338.6 882h6.6V912.3h-6.6zM2348 867.2h1.9V897.8h-1.9zM2345.7 875.9h6.6V882.7h-6.6zM2355.1 844.9h1.9V878.1h-1.9zM2352.8 853.2h6.6V876.8h-6.6z" fill="#089981"/>
<text x="2445.6" y="1173.2" font-size="20" fill="#b6b6b6" textLength="64.2" lengthAdjust="spacing">56,000</text>
<text x="2445.6" y="1115.8" font-size="20" fill="#b6b6b6" textLength="64.2" lengthAdjust="spacing">60,000</text>
<text x="2445.6" y="1058.4" font-size="20" fill="#b6b6b6" textLength="64.2" lengthAdjust="spacing">64,000</text>
<text x="2445.6" y="1001" font-size="20" fill="#b6b6b6" textLength="64.2" lengthAdjust="spacing">68,000</text>
<text x="2445.6" y="943.6" font-size="20" fill="#b6b6b6" textLength="64.2" lengthAdjust="spacing">72,000</text>
<text x="2445.6" y="886.2" font-size="20" fill="#b6b6b6" textLength="64.2" lengthAdjust="spacing">76,000</text>
<text x="2445.6" y="828.8" font-size="20" fill="#b6b6b6" textLength="64.2" lengthAdjust="spacing">80,000</text>
<text x="2445.6" y="771.4" font-size="20" fill="#b6b6b6" textLength="64.2" lengthAdjust="spacing">84,000</text>
<text x="2445.6" y="714" font-size="20" fill="#b6b6b6" textLength="64.2" lengthAdjust="spacing">88,000</text>
<text x="2445.6" y="656.6" font-size="20" fill="#b6b6b6" textLength="64.2" lengthAdjust="spacing">92,000</text>
<text x="2445.6" y="599.2" font-size="20" fill="#b6b6b6" textLength="64.2" lengthAdjust="spacing">96,000</text>
<text x="2445.6" y="541.8" font-size="20" fill="#b6b6b6" textLength="75.4" lengthAdjust="spacing">100,000</text>
<text x="2445.6" y="484.4" font-size="20" fill="#b6b6b6" textLength="75.4" lengthAdjust="spacing">104,000</text>
<text x="2445.6" y="427" font-size="20" fill="#b6b6b6" textLength="75.4" lengthAdjust="spacing">108,000</text>
<text x="2445.6" y="369.6" font-size="20" fill="#b6b6b6" textLength="75.4" lengthAdjust="spacing">112,000</text>
<text x="2445.6" y="312.2" font-size="20" fill="#b6b6b6" textLength="75.4" lengthAdjust="spacing">116,000</text>
<text x="2445.6" y="254.8" font-size="20" fill="#b6b6b6" textLength="75.4" lengthAdjust="spacing">120,000</text>
<text x="2445.6" y="197.4" font-size="20" fill="#b6b6b6" textLength="75.4" lengthAdjust="spacing">124,000</text>
<text x="2445.6" y="140" font-size="20" fill="#b6b6b6" textLength="75.4" lengthAdjust="spacing">128,000</text>
<text x="2445.6" y="82.6" font-size="20" fill="#b6b6b6" textLength="75.4" lengthAdjust="spacing">132,000</text>
<text x="2445.6" y="1263.5" font-size="20" fill="#b6b6b6" textLength="51.5" lengthAdjust="spacing">60.00</text>
<text x="2445.6" y="1329.9" font-size="20" fill="#b6b6b6" textLength="51.5" lengthAdjust="spacing">40.00</text>
<path d="M2432 839.3h101.4a3 3 0 0 1 3 3v42.7a3 3 0 0 1-3 3H2432z" fill="#089981"/>
<text x="2446.3" y="858.3" font-size="20" fill="#ffffff" textLength="63.5" lengthAdjust="spacing">77,913</text>
<text x="2446.3" y="880.5" font-size="20" fill="#c5e6df" textLength="80" lengthAdjust="spacing">16:27:20</text>
<path d="M2432 888.9h84a3 3 0 0 1 3 3v20.2a3 3 0 0 1-3 3H2432z" fill="#ff6d00"/>
<text x="2446.3" y="909" font-size="20" fill="#ffffff" textLength="63.5" lengthAdjust="spacing">75,664</text>
<path d="M2432 915.5h84a3 3 0 0 1 3 3v20.2a3 3 0 0 1-3 3H2432z" fill="#43a047"/>
<text x="2446.3" y="935.5" font-size="20" fill="#ffffff" textLength="63.5" lengthAdjust="spacing">72,670</text>
<path d="M2432 972h84a3 3 0 0 1 3 3v20.5a3 3 0 0 1-3 3H2432z" fill="#2962ff"/>
<text x="2446.3" y="992.2" font-size="20" fill="#ffffff" textLength="63.5" lengthAdjust="spacing">68,705</text>
<text x="258" y="1400.7" font-size="20" fill="#b6b6b6" text-anchor="middle">Jul</text>
<text x="479" y="1400.7" font-size="20" fill="#b6b6b6" text-anchor="middle">Aug</text>
<text x="699" y="1400.7" font-size="20" fill="#b6b6b6" text-anchor="middle">Sep</text>
<text x="913" y="1400.7" font-size="20" fill="#b6b6b6" text-anchor="middle">Oct</text>
<text x="1133" y="1400.7" font-size="20" fill="#b6b6b6" text-anchor="middle">Nov</text>
<text x="1346" y="1400.7" font-size="20" fill="#b6b6b6" text-anchor="middle">Dec</text>
<text x="1542.5" y="1400.7" font-size="20" fill="#d2d2d2" textLength="49" lengthAdjust="spacing" font-weight="bold">2026</text>
<text x="1787" y="1400.7" font-size="20" fill="#b6b6b6" text-anchor="middle">Feb</text>
<text x="1986" y="1400.7" font-size="20" fill="#b6b6b6" text-anchor="middle">Mar</text>
<text x="2207" y="1400.7" font-size="20" fill="#b6b6b6" text-anchor="middle">Apr</text>
<text x="28.1" y="74.5" font-size="20" fill="#c8c8c8" textLength="304.8" lengthAdjust="spacing">Bitcoin / U.S. Dollar · 1D · Bitstamp</text>
<text x="345.2" y="74.5" font-size="20" fill="#c8c8c8">O</text>
<text x="359.7" y="74.5" font-size="20" fill="#0d9f87" textLength="61.5" lengthAdjust="spacing">76,346</text>
<text x="433.4" y="74.5" font-size="20" fill="#c8c8c8">H</text>
<text x="447.9" y="74.5" font-size="20" fill="#0d9f87" textLength="61.5" lengthAdjust="spacing">78,446</text>
<text x="521.6" y="74.5" font-size="20" fill="#c8c8c8">L</text>
<text x="532.5" y="74.5" font-size="20" fill="#0d9f87" textLength="57.5" lengthAdjust="spacing">76,154</text>
<text x="602.3" y="74.5" font-size="20" fill="#c8c8c8">C</text>
<text x="615.4" y="74.5" font-size="20" fill="#0d9f87" textLength="56.5" lengthAdjust="spacing">77,913</text>
<text x="683.3" y="74.5" font-size="20" fill="#0d9f87" textLength="148.7" lengthAdjust="spacing">+1,568 (+2.05%)</text>
<text x="28.1" y="101.2" font-size="20" fill="#c8c8c8" textLength="146.2" lengthAdjust="spacing">MA Cross (9, 21)</text>
<text x="187.3" y="101.2" font-size="20" fill="#ff6d00" textLength="61.3" lengthAdjust="spacing">75,664</text>
<text x="260.5" y="101.2" font-size="20" fill="#4caf50" textLength="60.3" lengthAdjust="spacing">72,670</text>
<text x="333" y="100.5" font-size="15" fill="#c8c8c8" font-family="DejaVu Sans, sans-serif">∅</text>
<text x="28.1" y="1239.3" font-size="20" fill="#c8c8c8" textLength="214" lengthAdjust="spacing">RSI (14, close) loading...</text>
<path d="M2341.8 1181.2A15.4 15.4 0 1 1 2344.8 1196.9" stroke="#b646c6" stroke-width="2.5" fill="none"/>
<path d="M2360.75 1178L2349 1186.7L2355 1186.9L2350.8 1194.7L2362.9 1185.2L2356.9 1184.9z" fill="#b646c6"/>
<path d="M2339.4 1183.7Q2340.7 1190.4 2347.4 1191.7Q2340.7 1193 2339.4 1199.7Q2338.1 1193 2331.4 1191.7Q2338.1 1190.4 2339.4 1183.7z" fill="#7a4fe2"/>
<g fill="#dadada">
<path d="M18.9 1449.1H37.8V1472.8H27.8V1458.6H18.9z"/>
<circle cx="45.6" cy="1453.9" r="4.8"/>
<path d="M53.1 1449.1H65.6L57.5 1472.8H45.6z"/>
<text x="76.9" y="1472.8" font-size="34.3" font-weight="bold" textLength="190.9" lengthAdjust="spacing">TradingView</text>
</g>
</svg>
</body></html>
